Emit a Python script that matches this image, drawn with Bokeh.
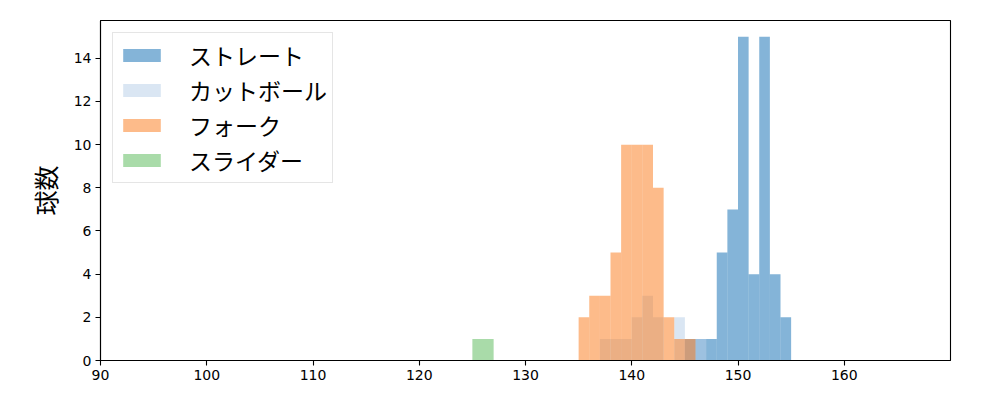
from bokeh.plotting import figure
from bokeh.embed import file_html
from bokeh.resources import INLINE
from bokeh.models import Range1d, FixedTicker, Legend, LegendItem

# ---- data ----
series_names = ["ストレート", "カットボール", "フォーク", "スライダー"]
series_colors = ["#0969b1", "#b5cde7", "#fb7715", "#53b753"]

straight_edges = [145, 146, 147, 148, 149, 150, 151, 152, 153, 154, 155]
straight_counts = [1, 1, 1, 5, 7, 15, 4, 15, 4, 2]

cutball_edges = [137, 138, 139, 140, 141, 142, 143, 144, 145, 146, 147]
cutball_counts = [1, 1, 1, 2, 3, 2, 0, 2, 1, 1]

fork_edges = [135, 136, 137, 138, 139, 140, 141, 142, 143, 144, 145, 146]
fork_counts = [2, 3, 3, 5, 10, 10, 10, 8, 2, 1, 1]

slider_edges = [125, 126, 127]
slider_counts = [1, 1]

x_ticks = [90, 100, 110, 120, 130, 140, 150, 160]
y_ticks = [0, 2, 4, 6, 8, 10, 12, 14]
y_label = "球数"

JP = "Noto Sans CJK JP"

p = figure(width=992, height=392, output_backend="svg", toolbar_location=None,
           x_range=Range1d(90, 170), y_range=Range1d(0, 15.75),
           min_border_left=100, min_border_right=42, min_border_top=20, min_border_bottom=32)

p.xgrid.visible = False
p.ygrid.visible = False
p.outline_line_color = "black"
p.outline_line_width = 1.1
p.outline_line_alpha = 1.0
p.background_fill_color = "white"

for ax in (p.xaxis[0], p.yaxis[0]):
    ax.axis_line_color = "black"
    ax.axis_line_width = 1.1
    ax.major_tick_line_color = "black"
    ax.major_tick_line_width = 1.1
    ax.major_tick_out = 5
    ax.major_tick_in = 0
    ax.minor_tick_line_color = None
    ax.major_label_text_font = "DejaVu Sans"
    ax.major_label_text_font_size = "14px"
    ax.major_label_text_color = "black"
    ax.major_label_standoff = 4

p.xaxis[0].ticker = FixedTicker(ticks=x_ticks)
p.yaxis[0].ticker = FixedTicker(ticks=y_ticks)
p.yaxis[0].axis_label = y_label
p.yaxis[0].axis_label_text_font = JP
p.yaxis[0].axis_label_text_font_size = "25px"
p.yaxis[0].axis_label_text_font_style = "normal"
p.yaxis[0].axis_label_text_color = "black"
p.yaxis[0].axis_label_standoff = 8

all_edges = [straight_edges, cutball_edges, fork_edges, slider_edges]
all_counts = [straight_counts, cutball_counts, fork_counts, slider_counts]

items = []
for name, color, edges, counts in zip(series_names, series_colors, all_edges, all_counts):
    r = p.quad(left=edges[:-1], right=edges[1:], bottom=0, top=counts,
               fill_color=color, fill_alpha=0.5, line_color=None)
    items.append(LegendItem(label=name, renderers=[r]))

legend = Legend(items=items, location="top_left")
legend.margin = 12
legend.padding = 5
legend.spacing = 1
legend.glyph_width = 47
legend.glyph_height = 16
legend.label_height = 26
legend.label_standoff = 24
legend.label_text_font = JP
legend.label_text_font_size = "23px"
legend.label_text_color = "black"
legend.border_line_color = "#cccccc"
legend.border_line_width = 1
legend.background_fill_color = "white"
legend.background_fill_alpha = 0.8
p.add_layout(legend)

open("out.html", "w").write(file_html(p, INLINE))
